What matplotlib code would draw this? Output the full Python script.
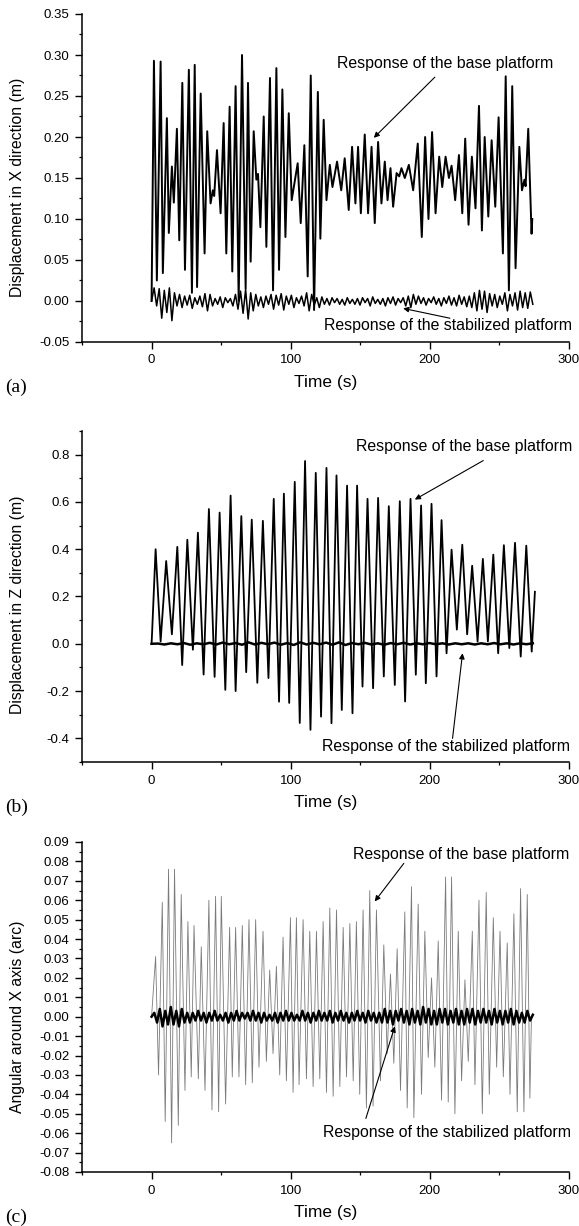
import numpy as np
import matplotlib
matplotlib.use("Agg")
import matplotlib.pyplot as plt
from matplotlib.ticker import MultipleLocator, FormatStrFormatter

plt.rcParams['font.family'] = ['Liberation Sans', 'DejaVu Sans']

# ---------------- data ----------------
# (a) X displacement, base platform: extrema (time s, value m)
base_a_pts = [(0, 0.0), (1.7, 0.293), (3.8, 0.025), (6.5, 0.292), (8.1, 0.034), (11.0, 0.223),
    (12.4, 0.083), (14.6, 0.164), (16.0, 0.120), (18.2, 0.210), (19.9, 0.074), (22.1, 0.266),
    (24.0, 0.038), (26.8, 0.282), (29.0, 0.010), (31.0, 0.288), (32.7, 0.017), (35.3, 0.253),
    (38.1, 0.058), (40.0, 0.207), (42.4, 0.119), (44.0, 0.135), (45.0, 0.128), (47.0, 0.184),
    (49.6, 0.107), (51.8, 0.217), (53.7, 0.058), (56.1, 0.237), (58.0, 0.036), (60.4, 0.262),
    (62.6, 0.000), (65.0, 0.300), (67.6, 0.015), (69.3, 0.266), (71.2, 0.048), (73.4, 0.207),
    (75.3, 0.148), (76.5, 0.155), (78.2, 0.090), (80.6, 0.225), (82.5, 0.066), (85.1, 0.272),
    (87.3, 0.013), (89.7, 0.284), (91.6, 0.038), (94.0, 0.258), (96.2, 0.078), (98.6, 0.229),
    (100.7, 0.123), (105.0, 0.168), (107.2, 0.095), (109.8, 0.190), (112.2, 0.030), (114.4, 0.275),
    (116.8, -0.011), (119.5, 0.255), (121.3, 0.076), (123.7, 0.221), (125.7, 0.123), (128.1, 0.166),
    (130.0, 0.139), (133.3, 0.170), (136.3, 0.135), (138.8, 0.174), (141.7, 0.111), (144.1, 0.188),
    (146.5, 0.119), (148.4, 0.188), (150.4, 0.107), (153.2, 0.203), (155.6, 0.107), (158.1, 0.188),
    (160.4, 0.095), (162.8, 0.194), (165.2, 0.119), (167.6, 0.170), (169.6, 0.123), (171.7, 0.162),
    (173.6, 0.115), (176.1, 0.156), (178.0, 0.152), (179.6, 0.162), (182.0, 0.150), (184.9, 0.166),
    (188.0, 0.135), (191.3, 0.192), (194.2, 0.078), (196.6, 0.200), (199.0, 0.100), (201.6, 0.206),
    (204.1, 0.107), (206.7, 0.176), (208.9, 0.139), (211.3, 0.176), (213.7, 0.150), (215.6, 0.165),
    (218.2, 0.123), (220.9, 0.178), (223.3, 0.107), (225.4, 0.198), (227.8, 0.093), (230.2, 0.176),
    (232.8, 0.113), (235.3, 0.238), (237.4, 0.086), (239.4, 0.200), (242.0, 0.103), (244.4, 0.196),
    (247.0, 0.115), (249.4, 0.224), (252.5, 0.058), (254.5, 0.274), (256.8, 0.013), (259.2, 0.262),
    (261.6, 0.040), (264.3, 0.188), (266.2, 0.135), (268.0, 0.148), (268.8, 0.140), (270.7, 0.210),
    (273.1, 0.082), (273.6, 0.100)]

# (a) stabilized platform, sampled evenly over 0..274 s
stab_a = [0.0, 0.016, -0.006, 0.015, -0.021, 0.013, -0.014, 0.016, -0.024, 0.010,
    -0.006, 0.008, -0.008, 0.006, -0.005, 0.007, -0.009, 0.004, -0.004, 0.006, -0.007, 0.009,
    -0.012, 0.008, -0.006, 0.003, -0.004, 0.005, -0.008, 0.004, -0.002, 0.003, -0.006, 0.008,
    -0.010, 0.012, -0.015, 0.014, -0.022, 0.010, -0.012,
    0.008, -0.006, 0.005, -0.008, 0.006, -0.004, 0.008, -0.010, 0.007, -0.005, 0.009, -0.011,
    0.006, -0.004, 0.007, -0.008, 0.004, -0.003, 0.006, -0.006, 0.010, -0.012, 0.008, -0.005,
    0.004, -0.008,
    0.005, -0.004, 0.003, -0.005, 0.004, -0.002, 0.003, -0.004, 0.002, -0.005, 0.004, -0.003,
    0.002, -0.004, 0.003, -0.005, 0.004, -0.002, 0.003, -0.006, 0.005, -0.003, 0.002, -0.004,
    0.003, -0.006, 0.004, -0.003, 0.005, -0.005, 0.003, -0.002, 0.004, -0.006, 0.006, -0.008,
    0.008, -0.004,
    0.006, -0.003, 0.004, -0.005, 0.003, -0.002, 0.005, -0.004, 0.003, -0.006, 0.004, -0.003,
    0.006, -0.005, 0.004, -0.006, 0.007, -0.004, 0.005, -0.007, 0.006, -0.008,
    0.010, -0.012, 0.013, -0.010, 0.012, -0.014, 0.009, -0.006,
    0.008, -0.008, 0.006, -0.004, 0.010, -0.012, 0.008,
    -0.006, 0.010, -0.011, 0.012, -0.008, 0.010, -0.009, 0.011, -0.004]

# (b) Z displacement, base platform extrema
base_b_pts = [(0, 0.0), (0.4, 0.05), (2.9, 0.40), (6.5, 0.01), (10.5, 0.35), (14.6, 0.04), (18.5, 0.41),
    (22.0, -0.09), (25.7, 0.44), (29.7, -0.025), (33.3, 0.47), (37.4, -0.13), (41.2, 0.57),
    (45.3, -0.14), (48.9, 0.555), (53.0, -0.195), (56.8, 0.627), (60.4, -0.20), (64.5, 0.54),
    (68.0, -0.12), (72.0, 0.525), (76.0, -0.165), (80.0, 0.52), (84.0, -0.145), (87.8, 0.613),
    (91.6, -0.245), (95.1, 0.635), (98.9, -0.25), (102.9, 0.685), (106.5, -0.335), (110.3, 0.773),
    (114.2, -0.364), (118.0, 0.723), (121.8, -0.308), (125.7, 0.744), (129.3, -0.336), (132.9, 0.712),
    (136.7, -0.28), (140.5, 0.669), (144.4, -0.294), (147.7, 0.669), (151.6, -0.181), (155.2, 0.613),
    (159.2, -0.188), (162.8, 0.617), (166.9, -0.138), (170.5, 0.582), (174.8, -0.174), (178.4, 0.603),
    (182.2, -0.244), (186.1, 0.613), (189.9, -0.131), (193.7, 0.585), (197.1, -0.167), (201.2, 0.592),
    (204.8, -0.138), (208.4, 0.523), (212.0, -0.04), (215.6, 0.398), (219.4, 0.06), (223.3, 0.419),
    (226.8, 0.04), (230.4, 0.33), (234.3, 0.01), (238.1, 0.359), (241.7, 0.01), (245.6, 0.377),
    (249.1, -0.04), (253.2, 0.417), (257.1, -0.018), (261.2, 0.427), (265.3, -0.054), (269.3, 0.415),
    (273.2, -0.033), (275.5, 0.22)]

# (b) stabilized platform, sampled evenly over 0..274 s
stab_b = [0.0, 0.001, -0.003, 0.002, -0.002, 0.003, -0.004, 0.002, -0.002, 0.004, -0.003, 0.005,
    -0.002, 0.003, -0.004, 0.006, -0.003, 0.004, -0.002, 0.005, -0.004, 0.003, -0.005, 0.006,
    -0.003, 0.004, -0.002, 0.005, -0.004, 0.006, -0.005, 0.003, -0.002, 0.004, -0.003, 0.002,
    -0.004, 0.003, -0.002, 0.004, -0.003, 0.002, -0.002, 0.003, -0.002, 0.002, -0.003, 0.002,
    -0.002, 0.002, -0.003, 0.002, -0.002, 0.003, -0.002, 0.002, -0.003, 0.002, -0.002, 0.002]

# (c) rotation about X, base platform extrema
base_c_pts = [(0, 0.0), (2.9, 0.031), (5.0, -0.030), (7.7, 0.059), (9.8, -0.054), (12.2, 0.076),
    (14.4, -0.065), (16.5, 0.076), (19.2, -0.056), (21.3, 0.063), (24.0, -0.038), (26.1, 0.049),
    (28.5, -0.031), (30.5, 0.047), (33.6, -0.032), (35.7, 0.036), (38.4, -0.038), (41.2, 0.060),
    (43.4, -0.048), (46.0, 0.062), (48.2, -0.049), (50.1, 0.062), (53.2, -0.045), (56.1, 0.046),
    (58.0, -0.031), (60.4, 0.046), (62.8, -0.031), (65.2, 0.047), (67.6, -0.035), (70.0, 0.050),
    (72.4, -0.034), (74.8, 0.050), (77.2, -0.026), (80.1, 0.044), (82.5, -0.023), (84.9, 0.024),
    (87.3, -0.019), (89.7, 0.026), (92.1, -0.030), (94.5, 0.041), (96.9, -0.033), (99.8, 0.051),
    (101.7, -0.039), (104.1, 0.051), (106.0, -0.035), (108.9, 0.050), (111.3, -0.032), (113.7, 0.044),
    (116.1, -0.036), (118.5, 0.044), (120.9, -0.032), (123.3, 0.049), (125.7, -0.039), (128.1, 0.056),
    (130.5, -0.041), (132.9, 0.055), (135.3, -0.036), (137.7, 0.046), (140.1, -0.031), (142.5, 0.048),
    (144.9, -0.033), (147.2, 0.049), (149.6, -0.040), (152.0, 0.055), (154.4, -0.047), (156.8, 0.065),
    (159.2, -0.046), (161.6, 0.055), (164.5, -0.033), (166.9, 0.037), (169.3, -0.019), (171.7, 0.022),
    (174.1, -0.024), (176.5, 0.035), (178.9, -0.038), (182.0, 0.054), (183.7, -0.047), (186.8, 0.067),
    (188.5, -0.052), (191.6, 0.058), (194.0, -0.040), (196.4, 0.044), (198.8, -0.021), (201.2, 0.020),
    (203.6, -0.026), (206.0, 0.039), (208.4, -0.043), (211.3, 0.072), (213.2, -0.044), (215.6, 0.072),
    (218.0, -0.050), (220.4, 0.044), (222.8, -0.033), (225.2, 0.019), (227.6, -0.023), (230.5, 0.044),
    (232.4, -0.035), (235.3, 0.060), (237.7, -0.050), (240.5, 0.064), (242.7, -0.040), (245.6, 0.051),
    (248.0, -0.026), (250.4, 0.044), (252.8, -0.031), (255.6, 0.038), (257.6, -0.040), (260.4, 0.053),
    (262.8, -0.049), (265.2, 0.066), (267.6, -0.049), (270.0, 0.063), (271.9, -0.042), (273.0, 0.0)]

# (c) stabilized platform, sampled evenly over 0..274 s
stab_c = [0.0, 0.002, -0.003, 0.004, -0.005, 0.003, -0.004, 0.005, -0.004, 0.003, -0.005, 0.004,
    -0.003, 0.002, -0.003, 0.002, -0.002, 0.003, -0.002, 0.002, -0.003, 0.002, -0.002, 0.003,
    -0.002, 0.001, -0.002, 0.002, -0.003, 0.002, -0.002, 0.003, -0.002, 0.002, -0.001, 0.002,
    -0.002, 0.003, -0.002, 0.002, -0.003, 0.002, -0.002, 0.001, -0.002, 0.002, -0.003, 0.002,
    -0.002, 0.003, -0.002, 0.002, -0.002, 0.001, -0.002, 0.003, -0.002, 0.002, -0.003, 0.002,
    -0.002, 0.003, -0.002, 0.002, -0.002, 0.003, -0.003, 0.002, -0.002, 0.003, -0.002, 0.002,
    -0.003, 0.002, -0.002, 0.003, -0.002, 0.002, -0.003, 0.003, -0.002, 0.002, -0.003, 0.002,
    -0.003, 0.004, -0.003, 0.003, -0.004, 0.003, -0.002, 0.004, -0.003, 0.003, -0.004, 0.004,
    -0.003, 0.003, -0.004, 0.005, -0.003, 0.004, -0.004, 0.003, -0.004, 0.004, -0.003, 0.004,
    -0.004, 0.003, -0.003, 0.004, -0.004, 0.003, -0.004, 0.004, -0.003, 0.004, -0.004, 0.003,
    -0.003, 0.004, -0.003, 0.003, -0.004, 0.004, -0.003, 0.003, -0.004, 0.003, -0.003, 0.004,
    -0.004, 0.003, -0.003, 0.002, -0.003, 0.003, -0.002, 0.001]

t_end_stab = 274.0

panels = [
    dict(base=base_a_pts, stab=stab_a, ylim=(-0.05, 0.35), major=0.05, minor=0.025, fmt='%.2f',
         ylabel='Displacement in X direction (m)', tag='(a)', base_lw=1.4, base_c='black',
         stab_lw=1.1, ylab_y=0.47,
         base_text=('Response of the base platform', 210.8, 0.29, 'center'),
         base_arrow=((203.6, 0.273), (159.7, 0.199)),
         stab_text=('Response of the stabilized platform', 213.0, -0.0296, 'center'),
         stab_arrow=((214.4, -0.021), (180.8, -0.009))),
    dict(base=base_b_pts, stab=stab_b, ylim=(-0.5, 0.9), major=0.2, minor=0.1, fmt='%.1f',
         ylabel='Displacement in Z direction (m)', tag='(b)', base_lw=1.3, base_c='black',
         stab_lw=1.8, ylab_y=0.474,
         base_text=('Response of the base platform', 147.0, 0.836, 'left'),
         base_arrow=((238.4, 0.775), (189.2, 0.61)),
         stab_text=('Response of the stabilized platform', 122.5, -0.435, 'left'),
         stab_arrow=((216.3, -0.40), (223.5, -0.04))),
    dict(base=base_c_pts, stab=stab_c, ylim=(-0.08, 0.09), major=0.01, minor=0.005, fmt='%.2f',
         ylabel='Angular around X axis (arc)', tag='(c)', base_lw=0.6, base_c='#7a7a7a',
         stab_lw=1.8, ylab_y=0.47,
         base_text=('Response of the base platform', 222.8, 0.0835, 'center'),
         base_arrow=((181.3, 0.079), (160.4, 0.0594)),
         stab_text=('Response of the stabilized platform', 212.2, -0.0594, 'center'),
         stab_arrow=((154.0, -0.0524), (174.8, -0.005))),
]

W, H = 579, 1226
fig = plt.figure(figsize=(W / 100, H / 100), dpi=100)
# axes boxes in pixels: (left, top, right, bottom)
boxes = [(82, 14, 569, 342), (82, 431, 569, 762), (82, 842, 569, 1172)]

for p, (l, t, r, b) in zip(panels, boxes):
    ax = fig.add_axes([l / W, 1 - b / H, (r - l) / W, (b - t) / H])
    bt = [q[0] for q in p['base']]
    by = [q[1] for q in p['base']]
    ax.plot(bt, by, color=p['base_c'], lw=p['base_lw'], solid_joinstyle='round', zorder=2)
    st = np.linspace(0, t_end_stab, len(p['stab']))
    ax.plot(st, p['stab'], color='black', lw=p['stab_lw'], zorder=3)

    ax.set_xlim(-50, 300)
    ax.set_ylim(*p['ylim'])
    ax.xaxis.set_major_locator(MultipleLocator(100))
    ax.xaxis.set_minor_locator(MultipleLocator(50))
    ax.yaxis.set_major_locator(MultipleLocator(p['major']))
    ax.yaxis.set_minor_locator(MultipleLocator(p['minor']))
    ax.yaxis.set_major_formatter(FormatStrFormatter(p['fmt']))
    if p['tag'] == '(b)':
        ax.set_yticks([-0.4, -0.2, 0.0, 0.2, 0.4, 0.6, 0.8])
    ax.set_xticks([0, 100, 200, 300])
    for s in ('top', 'right'):
        ax.spines[s].set_visible(False)
    for s in ('left', 'bottom'):
        ax.spines[s].set_linewidth(1.1)
    ax.tick_params(which='major', direction='out', length=5, width=1.0, labelsize=9.5, pad=4)
    ax.tick_params(which='minor', direction='out', length=2.5, width=0.9)
    ax.set_xlabel('Time (s)', fontsize=12.5, labelpad=6)
    ax.set_ylabel(p['ylabel'], fontsize=11.3)
    ax.yaxis.set_label_coords(-0.117, p['ylab_y'])

    txt, tx, ty, ha = p['base_text']
    ax.text(tx, ty, txt, fontsize=11.4, ha=ha, va='center', clip_on=False)
    txt, tx, ty, ha = p['stab_text']
    ax.text(tx, ty, txt, fontsize=11.4, ha=ha, va='center', clip_on=False)
    for (tail, head) in (p['base_arrow'], p['stab_arrow']):
        ax.annotate('', xy=head, xytext=tail,
                    arrowprops=dict(arrowstyle='-|>', color='black', lw=0.8,
                                    mutation_scale=8, shrinkA=0, shrinkB=0))

    fig.text(5 / W, 1 - (b + 45) / H, p['tag'], fontsize=14, family='Liberation Serif',
             ha='left', va='center')

fig.savefig('out.png', dpi=100)
